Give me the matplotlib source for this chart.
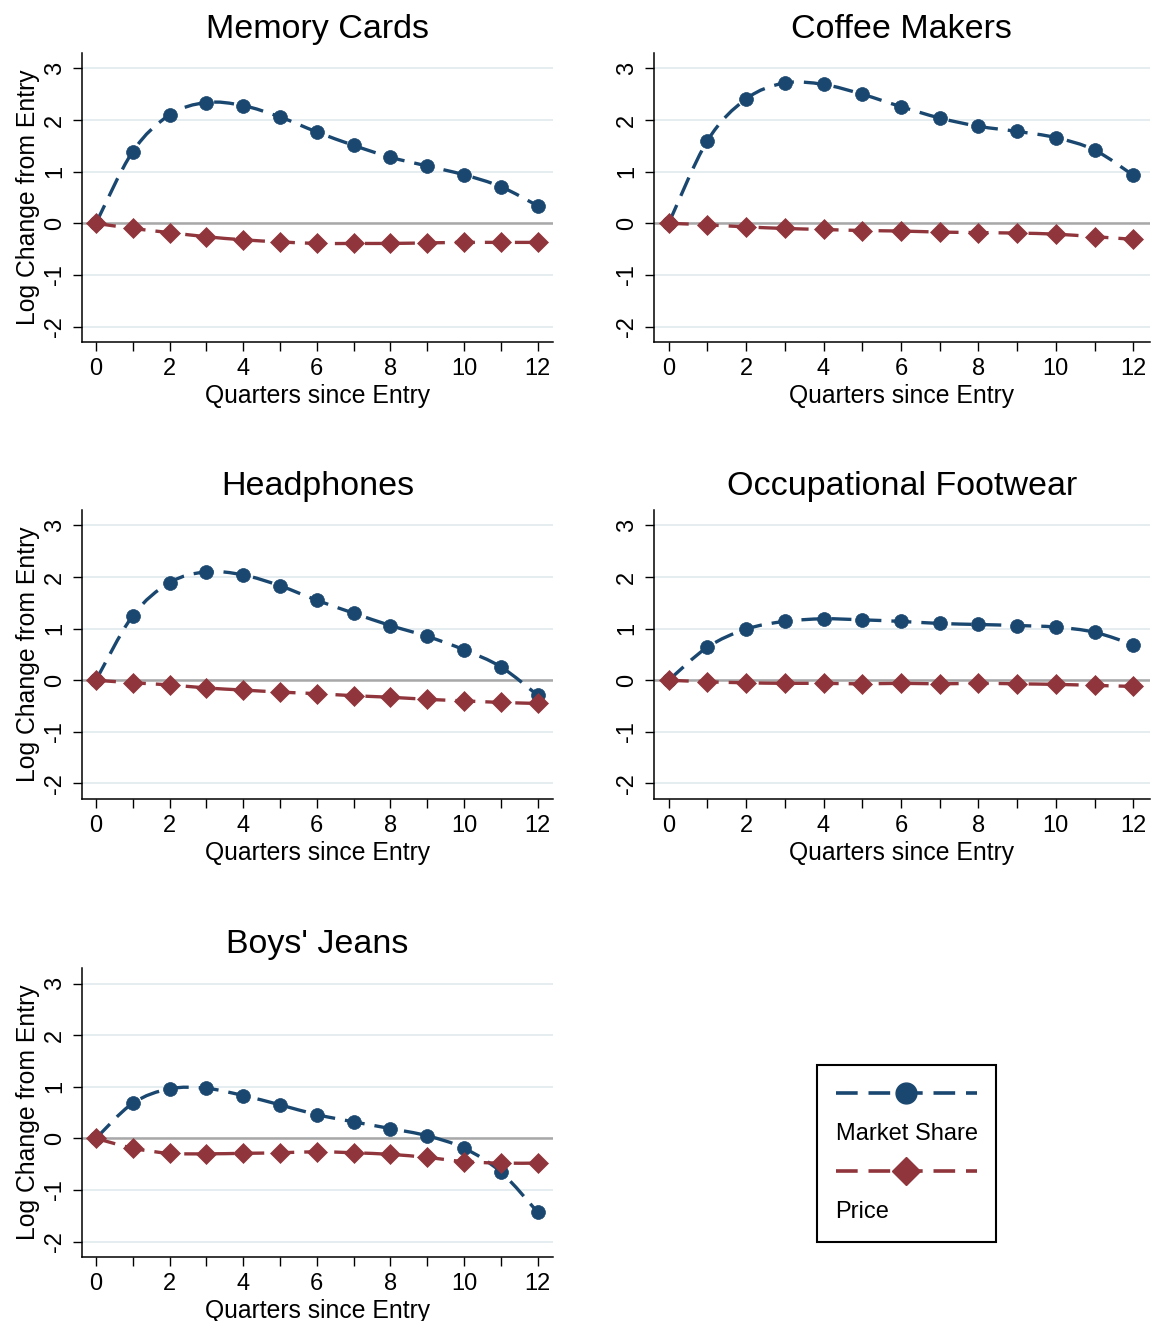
import matplotlib
matplotlib.use("Agg")
import matplotlib.pyplot as plt
from matplotlib.lines import Line2D
from matplotlib.path import Path
from matplotlib.patches import PathPatch

plt.rcParams["font.family"] = ["Liberation Sans", "DejaVu Sans"]
plt.rcParams["axes.unicode_minus"] = False

quarters = list(range(13))

titles = ["Memory Cards", "Coffee Makers", "Headphones",
          "Occupational Footwear", "Boys' Jeans"]

share_memory = [0, 1.39, 2.10, 2.34, 2.28, 2.06, 1.77, 1.51, 1.28, 1.11, 0.94, 0.71, 0.34]
price_memory = [0, -0.10, -0.18, -0.26, -0.32, -0.36, -0.39, -0.39, -0.39, -0.38, -0.37, -0.37, -0.37]

share_coffee = [0, 1.60, 2.41, 2.72, 2.69, 2.50, 2.26, 2.04, 1.88, 1.78, 1.66, 1.42, 0.93]
price_coffee = [0, -0.03, -0.07, -0.10, -0.12, -0.14, -0.15, -0.17, -0.18, -0.19, -0.21, -0.26, -0.31]

share_headphones = [0, 1.25, 1.89, 2.10, 2.04, 1.83, 1.55, 1.30, 1.06, 0.85, 0.59, 0.26, -0.29]
price_headphones = [0, -0.05, -0.09, -0.15, -0.19, -0.23, -0.26, -0.30, -0.33, -0.37, -0.40, -0.43, -0.45]

share_footwear = [0, 0.64, 0.99, 1.14, 1.19, 1.17, 1.14, 1.10, 1.08, 1.06, 1.03, 0.93, 0.69]
price_footwear = [0, -0.03, -0.05, -0.06, -0.06, -0.07, -0.06, -0.07, -0.06, -0.07, -0.08, -0.10, -0.12]

share_jeans = [0, 0.68, 0.96, 0.97, 0.83, 0.65, 0.46, 0.32, 0.19, 0.05, -0.19, -0.65, -1.43]
price_jeans = [0, -0.19, -0.29, -0.30, -0.29, -0.28, -0.26, -0.28, -0.31, -0.37, -0.45, -0.48, -0.48]

shares = [share_memory, share_coffee, share_headphones, share_footwear, share_jeans]
prices = [price_memory, price_coffee, price_headphones, price_footwear, price_jeans]

NAVY = "#1a476f"
MAROON = "#90353b"
DASH = (0, (6, 3))

# axes boxes in figure fractions: [left, bottom, width, height]
COL_X = [(0.0712, 0.4093), (0.5682, 0.4305)]
ROW_Y = [(0.7411, 0.2188), (0.3952, 0.2188), (0.0484, 0.2188)]


def smooth_path(xs, ys):
    """Cubic Bezier path through every point (Catmull-Rom tangents)."""
    pts = list(zip(xs, ys))
    n = len(pts)
    verts = [pts[0]]
    codes = [Path.MOVETO]
    for i in range(n - 1):
        p0 = pts[max(i - 1, 0)]
        p1 = pts[i]
        p2 = pts[i + 1]
        p3 = pts[min(i + 2, n - 1)]
        c1 = (p1[0] + (p2[0] - p0[0]) / 6, p1[1] + (p2[1] - p0[1]) / 6)
        c2 = (p2[0] - (p3[0] - p1[0]) / 6, p2[1] - (p3[1] - p1[1]) / 6)
        verts += [c1, c2, p2]
        codes += [Path.CURVE4] * 3
    return Path(verts, codes)


def draw_series(ax, ys, color, marker, ms):
    ax.add_patch(PathPatch(smooth_path(quarters, ys), fill=False,
                           edgecolor=color, lw=2.4, linestyle=DASH,
                           capstyle="butt", zorder=3))
    ax.plot(quarters, ys, linestyle="none", marker=marker, ms=ms,
            color=color, mec=color, mew=0.5, zorder=4)


fig = plt.figure(figsize=(11.51, 13.21), dpi=100)

for k, title in enumerate(titles):
    row, col = divmod(k, 2)
    x0, w = COL_X[col]
    y0, h = ROW_Y[row]
    ax = fig.add_axes([x0, y0, w, h])

    for yv in range(-2, 4):
        ax.axhline(yv, color="#e6edf1", lw=1.4, zorder=1)
    ax.axhline(0, color="#a8a8a8", lw=1.8, zorder=2)

    draw_series(ax, shares[k], NAVY, "o", 10)
    draw_series(ax, prices[k], MAROON, "D", 10)

    ax.set_xlim(-0.38, 12.42)
    ax.set_ylim(-2.3, 3.3)
    ax.set_xticks(range(0, 13, 2))
    ax.set_xticks(range(1, 13, 2), minor=True)
    ax.set_yticks(range(-2, 4))
    ax.tick_params(axis="both", which="both", direction="out", length=6.5,
                   width=1.0, labelsize=17)
    ax.tick_params(axis="x", pad=5)
    ax.tick_params(axis="y", pad=5)
    for lab in ax.get_yticklabels():
        lab.set_rotation(90)
        lab.set_va("center")

    for side in ("top", "right"):
        ax.spines[side].set_visible(False)
    for side in ("left", "bottom"):
        ax.spines[side].set_linewidth(1.1)

    ax.set_title(title, fontsize=24.5, pad=11)
    ax.set_xlabel("Quarters since Entry", fontsize=17.8, labelpad=3)
    if col == 0:
        ax.set_ylabel("Log Change from Entry", fontsize=17.8, labelpad=3)

blank = Line2D([], [], color="none")
handles = [
    Line2D([], [], color=NAVY, lw=2.6, linestyle=DASH, marker="o", ms=15),
    blank,
    Line2D([], [], color=MAROON, lw=2.6, linestyle=DASH, marker="D", ms=14),
    blank,
]
labels = ["", "Market Share", "", "Price"]
leg = fig.legend(handles, labels, loc="center", bbox_to_anchor=(0.7876, 0.1268),
                 fontsize=17, handlelength=6.0, handletextpad=-6.0,
                 labelspacing=0.72, borderpad=0.8, fancybox=False,
                 edgecolor="black", framealpha=1, numpoints=1)
leg.get_frame().set_linewidth(1.5)

fig.savefig("out.png", dpi=100)
